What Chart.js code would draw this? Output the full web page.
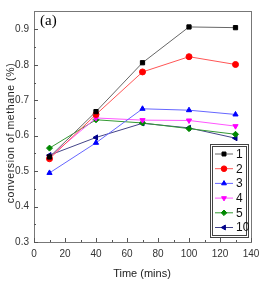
<!DOCTYPE html>
<html><head><meta charset="utf-8">
<script src="https://cdn.jsdelivr.net/npm/chart.js@4/dist/chart.umd.min.js"></script>
<style>
html,body{margin:0;padding:0;background:#fff}
#wrap{position:relative;width:275px;height:286px;overflow:hidden}
#c{position:absolute;left:0;top:0}
.t{position:absolute;font-family:'Liberation Sans',Arial,sans-serif;color:#222;white-space:nowrap}
#yt{left:10px;top:133px;font-size:10.5px;letter-spacing:0.6px;transform:translate(-50%,-50%) rotate(-90deg)}
#xt{left:142px;top:273px;font-size:11px;transform:translate(-50%,-50%)}
#lbl{left:40px;top:12px;font-family:'Liberation Serif','Times New Roman',serif;font-size:15px;color:#000}
</style>
</head><body><div id="wrap"><canvas id="c" width="275" height="286"></canvas>
<div class="t" id="yt"></div><div class="t" id="xt"></div><div class="t" id="lbl">(a)</div></div>
<script>
const times = [10, 40, 70, 100, 130];
const seriesNames = ['1', '2', '3', '4', '5', '10'];
const s1 = [0.540, 0.668, 0.806, 0.907, 0.905];
const s2 = [0.535, 0.660, 0.780, 0.823, 0.801];
const s3 = [0.495, 0.580, 0.676, 0.672, 0.660];
const s4 = [0.540, 0.650, 0.644, 0.643, 0.627];
const s5 = [0.565, 0.645, 0.636, 0.620, 0.604];
const s10 = [0.545, 0.595, 0.635, 0.622, 0.593];
const xTicks = [0, 20, 40, 60, 80, 100, 120, 140];
const yTicks = [0.3, 0.4, 0.5, 0.6, 0.7, 0.8, 0.9];
const xTitle = 'Time (mins)';
const yTitle = 'conversion of methane (%)';
document.getElementById('xt').textContent = xTitle;
document.getElementById('yt').textContent = yTitle;

const styles = [
  {line:'#666', pt:'#000', ps:'rect', rot:0},
  {line:'#f55', pt:'#f00', ps:'circle', rot:0},
  {line:'#66f', pt:'#00f', ps:'triangle', rot:0},
  {line:'#f5f', pt:'#f0f', ps:'triangle', rot:180},
  {line:'#393', pt:'#080', ps:'rectRot', rot:0},
  {line:'#448', pt:'#00008b', ps:'triangle', rot:-90}
];
const allSeries = [s1, s2, s3, s4, s5, s10];
const datasets = allSeries.map((s, i) => ({
  label: seriesNames[i],
  data: times.map((t, j) => ({x: t, y: s[j]})),
  borderColor: styles[i].line,
  backgroundColor: styles[i].pt,
  pointBackgroundColor: styles[i].pt,
  pointBorderColor: styles[i].pt,
  pointStyle: styles[i].ps,
  pointRotation: styles[i].rot,
  pointRadius: 3,
  borderWidth: 1,
  tension: 0
}));

const narrow = "'Liberation Sans Narrow','Liberation Sans',Arial,sans-serif";
const tickFont = {family: narrow, size: 10};

const framePlugin = {
  id: 'frame',
  afterDraw(chart) {
    const {ctx, chartArea: a} = chart;
    ctx.save();
    ctx.strokeStyle = '#777';
    ctx.lineWidth = 1;
    ctx.strokeRect(Math.round(a.left) + 0.5, Math.round(a.top) + 0.5, Math.round(a.right - a.left), Math.round(a.bottom - a.top));
    const xs = chart.scales.x, ys = chart.scales.y;
    ctx.strokeStyle = '#555';
    ctx.beginPath();
    for (let v = 0; v <= 140; v += 10) {
      const px = Math.round(xs.getPixelForValue(v)) + 0.5;
      const len = (v % 20 === 0) ? 4 : 2;
      ctx.moveTo(px, a.bottom); ctx.lineTo(px, a.bottom - len);
    }
    for (let k = 0; k <= 12; k++) {
      const v = 0.3 + k * 0.05;
      const py = Math.round(ys.getPixelForValue(v)) + 0.5;
      const len = (k % 2 === 0) ? 4 : 2;
      ctx.moveTo(a.left, py); ctx.lineTo(a.left + len, py);
    }
    ctx.stroke();
    // legend
    const lx = 210, ly = 144, lw = 38, lh = 93;
    ctx.strokeStyle = '#444';
    ctx.strokeRect(lx + 0.5, ly + 0.5, lw, lh);
    ctx.strokeRect(lx + 2.5, ly + 2.5, lw - 4, lh - 4);
    ctx.font = "12px " + narrow;
    ctx.textBaseline = 'middle';
    ctx.textAlign = 'left';
    chart.data.datasets.forEach((ds, i) => {
      const cy = ly + 10 + i * 14.7;
      ctx.strokeStyle = ds.borderColor;
      ctx.beginPath(); ctx.moveTo(lx + 5, cy); ctx.lineTo(lx + 23, cy); ctx.stroke();
      ctx.fillStyle = ds.pointBackgroundColor; ctx.strokeStyle = ds.pointBorderColor;
      Chart.helpers.drawPoint(ctx, {pointStyle: ds.pointStyle, rotation: ds.pointRotation, radius: 2.8, borderWidth: 1}, lx + 14, cy);
      ctx.fillStyle = '#111';
      ctx.fillText(ds.label, lx + 26, cy + 0.5);
    });
    ctx.restore();
  }
};

new Chart(document.getElementById('c'), {
  type: 'line',
  data: {datasets},
  plugins: [framePlugin],
  options: {
    responsive: false,
    animation: false,
    devicePixelRatio: 1,
    layout: {padding: {top: 8, right: 24, left: 0, bottom: 0}},
    plugins: {legend: {display: false}, tooltip: {enabled: false}},
    scales: {
      x: {
        type: 'linear', min: 0, max: 140,
        afterBuildTicks: s => { s.ticks = xTicks.map(v => ({value: v})); },
        afterFit: s => { s.height = 44; },
        grid: {display: false, drawTicks: false},
        border: {display: false},
        ticks: {font: tickFont, color: '#333', padding: 6, maxRotation: 0}
      },
      y: {
        type: 'linear', min: 0.3, max: 0.952,
        afterBuildTicks: s => { s.ticks = yTicks.map(v => ({value: v})); },
        afterFit: s => { s.width = 34; },
        grid: {display: false, drawTicks: false},
        border: {display: false},
        ticks: {font: tickFont, color: '#333', padding: 5, callback: v => v.toFixed(1)}
      }
    }
  }
});
</script></body></html>
